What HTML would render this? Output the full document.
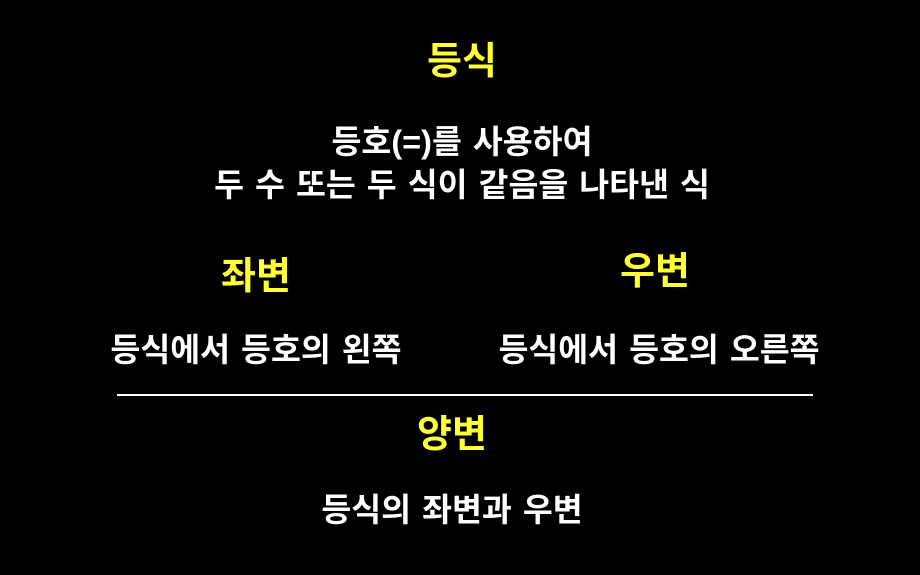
<!DOCTYPE html>
<html><head><meta charset="utf-8"><style>
body{margin:0;width:920px;height:575px;background:#000;overflow:hidden;position:relative;font-family:"Liberation Sans","Noto Sans CJK KR",sans-serif;font-weight:bold}
.t{position:absolute;white-space:nowrap;transform:translate(-50%,-50%);line-height:1}
.y{color:#ffff33;font-size:38px}
.w{color:#fff;font-size:32.5px;word-spacing:2px}
.ln{position:absolute;left:117px;top:394px;width:696px;height:2px;background:#fff}
</style></head><body>
<div class="t y" style="left:462px;top:62px">등식</div>
<div class="t w" style="left:462px;top:142px">등호(=)를 사용하여</div>
<div class="t w" style="left:462px;top:185px">두 수 또는 두 식이 같음을 나타낸 식</div>
<div class="t y" style="left:256px;top:277px">좌변</div>
<div class="t y" style="left:655px;top:272px">우변</div>
<div class="t w" style="left:256px;top:350px">등식에서 등호의 왼쪽</div>
<div class="t w" style="left:659px;top:350px">등식에서 등호의 오른쪽</div>
<div class="ln"></div>
<div class="t y" style="left:452px;top:435px">양변</div>
<div class="t w" style="left:452px;top:510px">등식의 좌변과 우변</div>
</body></html>
